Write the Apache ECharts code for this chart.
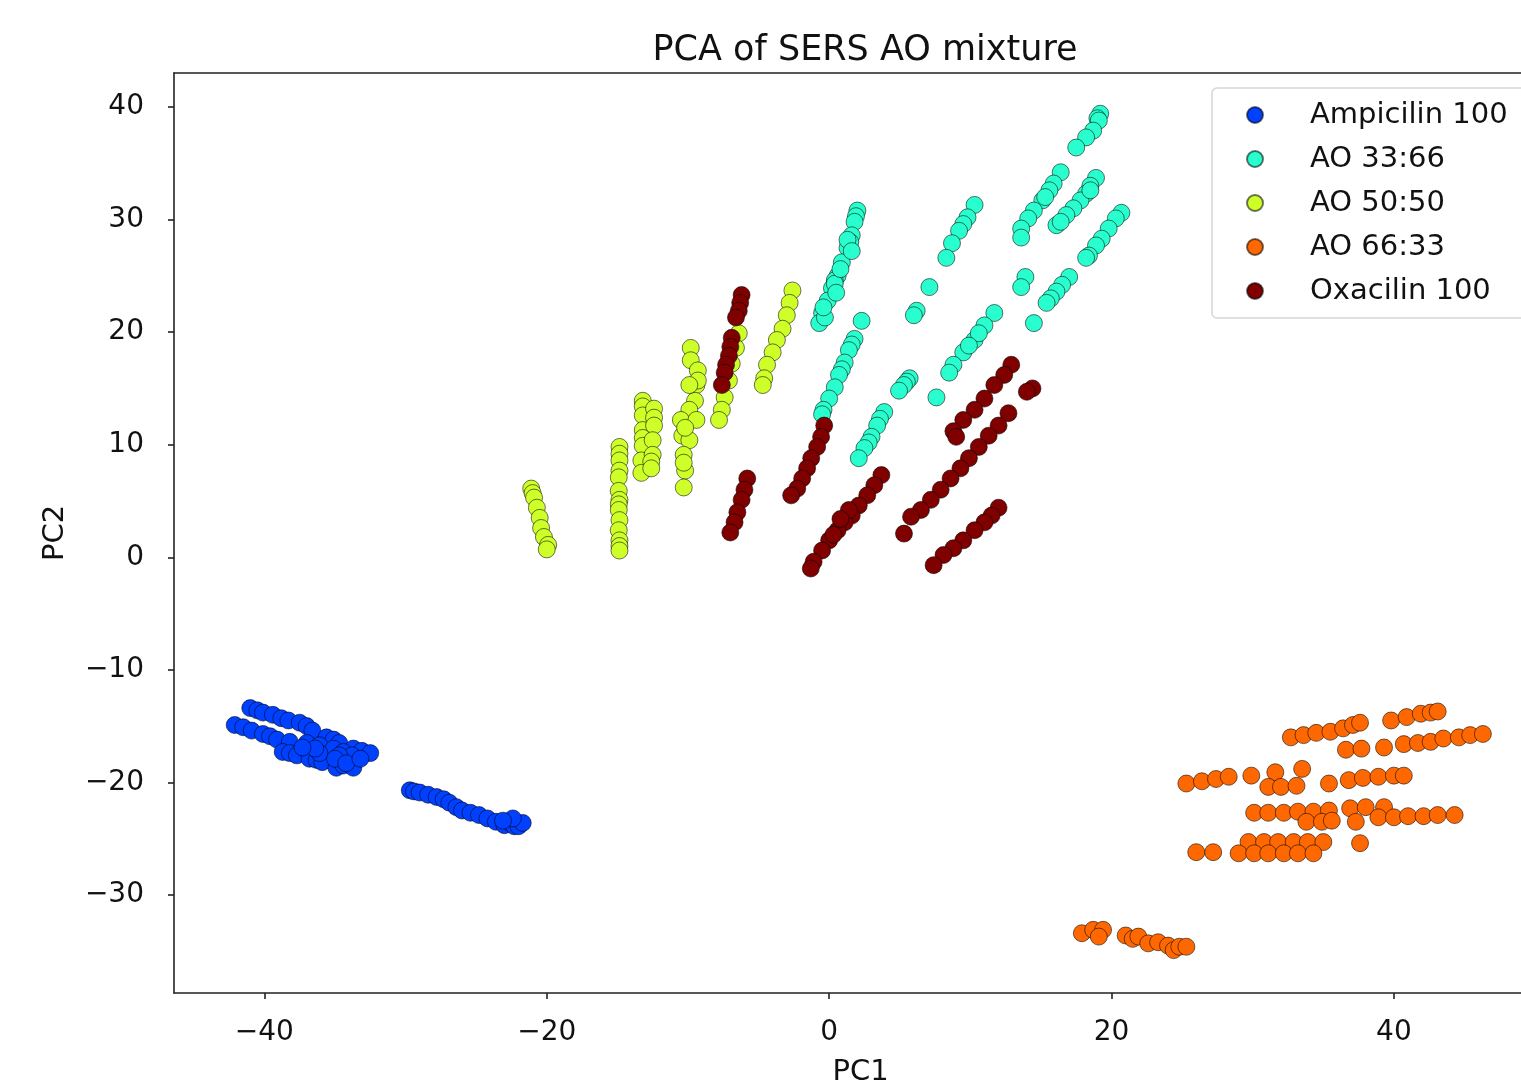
<!DOCTYPE html>
<html>
<head>
<meta charset="utf-8">
<script src="https://cdn.jsdelivr.net/npm/echarts@6/dist/echarts.min.js"></script>
<style>html,body{margin:0;padding:0;background:#fff}#c{width:1521px;height:1092px}</style>
</head>
<body>
<div id="c"></div>
<script>
const seriesNames = ['Ampicilin 100', 'AO 33:66', 'AO 50:50', 'AO 66:33', 'Oxacilin 100'];
const xTicks = [-40, -20, 0, 20, 40];
const yTicks = [-30, -20, -10, 0, 10, 20, 30, 40];

const ampicilin = [
  [-41.0,-13.4],[-40.5,-13.6],[-40.1,-13.8],[-39.4,-14.0],[-38.8,-14.3],[-38.3,-14.5],[-37.5,-14.7],[-37.0,-15.0],[-36.6,-15.4],[-35.6,-16.0],[-35.1,-16.2],[-34.7,-16.5],[-33.7,-17.0],[-33.1,-17.2],[-32.5,-17.4],
  [-42.1,-14.9],[-41.5,-15.1],[-40.9,-15.4],[-40.1,-15.7],[-39.6,-15.9],[-39.1,-16.2],[-38.2,-16.4],[-37.0,-16.5],[-36.1,-16.7],[-35.1,-17.0],[-34.4,-17.3],[-33.8,-17.6],
  [-38.7,-17.3],[-38.2,-17.4],[-37.7,-17.6],[-36.8,-17.9],[-36.3,-18.0],[-35.9,-18.2],[-34.9,-18.7],[-34.4,-18.5],[-33.7,-18.7],[-36.1,-17.4],[-34.7,-17.6],
  [-35.0,-17.9],[-34.2,-18.3],[-33.2,-17.9],[-36.4,-17.0],[-37.3,-16.9],
  [-29.7,-20.7],[-29.4,-20.8],[-29.0,-20.9],[-28.4,-21.1],[-27.8,-21.3],[-27.3,-21.5],[-26.9,-21.8],[-26.4,-22.2],[-26.0,-22.5],[-25.4,-22.7],[-24.8,-22.9],[-24.2,-23.2],
  [-23.6,-23.5],[-23.0,-23.8],[-22.6,-23.6],[-22.3,-23.9],[-22.0,-23.9],[-21.7,-23.6],[-22.4,-23.2],[-23.1,-23.4]
];

const ao3366 = [
  [2.0,30.8],[1.9,30.3],[1.8,29.8],[1.6,28.6],[1.5,28.0],[1.3,27.5],[0.9,26.2],[0.6,25.0],[0.4,24.6],[0.2,23.9],[-0.1,22.8],[-0.5,21.7],[-0.7,20.8],[1.3,28.2],[0.4,24.3],[0.8,25.6],[-0.3,21.3],[1.6,27.2],[0.5,23.5],[-0.4,22.2],
  [2.3,21.0],[1.8,19.4],[1.6,18.9],[1.4,18.4],[1.1,17.3],[0.9,16.7],[0.7,16.2],[0.4,15.1],[0.0,14.1],[-0.4,13.1],[-0.5,12.7],
  [3.9,12.9],[3.6,12.3],[3.4,11.7],[3.0,10.7],[2.8,10.2],[2.5,9.7],[2.1,8.8],
  [11.7,21.7],[11.0,20.6],[10.3,19.3],[9.5,18.2],[8.8,17.1],[8.5,16.4],[10.6,19.9],[9.9,18.8],
  [10.3,31.3],[9.8,30.2],[9.5,29.6],[9.2,29.0],[8.7,27.9],[8.3,26.6],
  [7.1,24.0],[6.2,21.9],[6.0,21.5],
  [5.7,15.9],[5.5,15.6],[5.3,15.3],[4.95,14.8],[7.6,14.2],
  [19.2,39.4],[19.0,39.0],[19.1,38.8],[18.7,37.9],[18.2,37.3],[17.5,36.4],
  [16.4,34.2],[15.9,33.2],[15.6,32.6],[15.1,31.7],[14.5,30.8],[14.1,30.1],[13.6,29.2],[13.6,28.4],[15.3,32.0],
  [18.9,33.7],[18.5,33.0],[18.2,32.3],[17.8,31.7],[17.3,31.0],[16.8,30.4],[16.1,29.5],[18.5,32.6],[16.4,29.8],
  [20.7,30.6],[20.3,30.1],[19.8,29.2],[19.3,28.3],[18.9,27.7],[18.4,26.8],[18.2,26.6],
  [17.0,24.9],[16.5,24.2],[16.1,23.6],[15.7,23.0],[15.4,22.6],
  [13.9,24.9],[13.6,24.0],[14.5,20.8]
];

const ao5050 = [
  [-21.1,6.1],[-21.0,5.7],[-20.9,5.3],[-20.7,4.4],[-20.5,3.5],[-20.4,2.6],[-20.2,1.8],[-19.9,1.1],[-20.0,0.7],
  [-14.85,9.8],[-14.85,9.2],[-14.85,8.6],[-14.85,7.7],[-14.9,7.1],[-14.9,5.9],[-14.85,5.1],[-14.9,4.7],[-14.9,4.2],[-14.85,3.3],[-14.9,2.4],[-14.85,1.5],[-14.85,1.0],[-14.85,0.6],
  [-13.2,13.9],[-13.2,13.4],[-13.2,12.6],[-13.2,11.3],[-13.2,10.6],[-13.2,9.9],[-13.3,8.6],[-13.3,7.5],
  [-12.4,13.2],[-12.4,12.4],[-12.4,11.7],[-12.5,10.4],[-12.5,9.1],[-12.6,8.5],[-12.6,7.9],
  [-9.8,18.6],[-9.8,17.5],[-9.3,16.6],[-9.4,15.3],[-9.5,13.9],[-9.9,13.1],[-10.5,12.2],[-10.4,10.8],[-9.9,10.4],[-10.3,9.1],[-10.2,7.7],[-10.3,6.2],[-9.3,15.7],[-9.4,12.2],[-9.9,15.3],[-10.2,11.5],[-10.3,8.4],
  [-6.4,19.9],[-6.6,18.6],[-6.9,17.2],[-7.1,15.7],[-7.4,14.2],[-7.6,13.1],[-7.8,12.2],
  [-2.6,23.7],[-2.8,22.6],[-3.0,21.5],[-3.3,20.3],[-3.7,19.3],[-4.0,18.2],[-4.4,17.1],[-4.6,15.9],[-4.7,15.3]
];

const ao6633 = [
  [32.7,-16.0],[33.6,-15.8],[34.5,-15.6],[35.5,-15.5],[36.4,-15.2],[37.1,-14.9],[37.6,-14.7],
  [39.8,-14.5],[40.9,-14.2],[41.9,-13.9],[42.6,-13.8],[43.1,-13.7],
  [36.6,-17.1],[37.7,-17.0],[39.3,-16.9],[40.7,-16.6],[41.7,-16.5],[42.6,-16.4],[43.5,-16.1],[44.6,-16.0],[45.4,-15.8],[46.3,-15.7],
  [25.3,-20.1],[26.4,-19.9],[27.4,-19.7],[28.3,-19.5],
  [29.9,-19.4],[31.6,-19.1],[33.5,-18.8],[31.1,-20.4],[32.0,-20.4],[33.1,-20.3],
  [35.4,-20.1],[36.8,-19.8],[37.8,-19.6],[38.9,-19.5],[40.0,-19.4],[40.7,-19.4],
  [30.1,-22.7],[31.1,-22.7],[32.2,-22.7],[33.2,-22.6],[34.3,-22.6],[35.4,-22.5],
  [33.8,-23.5],[34.9,-23.5],[35.6,-23.4],[36.9,-22.3],[38.0,-22.2],[39.3,-22.2],[37.3,-23.5],
  [38.9,-23.1],[40.0,-23.1],[41.0,-23.0],[42.1,-23.0],[43.1,-22.9],[44.3,-22.9],
  [29.7,-25.3],[30.8,-25.3],[31.8,-25.3],[32.9,-25.3],[33.9,-25.3],[35.0,-25.3],
  [26.0,-26.2],[27.2,-26.2],[29.0,-26.3],[30.1,-26.3],[31.1,-26.3],[32.2,-26.3],[33.2,-26.3],[34.3,-26.3],
  [37.6,-25.4],
  [17.9,-33.4],[18.7,-33.1],[19.4,-33.1],[19.1,-33.7],[21.0,-33.6],[21.5,-33.9],[21.9,-33.7],[22.6,-34.3],[23.3,-34.2],[24.0,-34.5],[24.4,-34.9],[24.8,-34.6],[25.3,-34.6]
];

const oxacilin = [
  [-6.2,23.3],[-6.3,22.6],[-6.4,21.9],[-6.6,21.3],
  [-6.9,19.5],[-7.0,18.7],[-7.1,17.9],[-7.3,17.1],[-7.4,16.4],[-7.6,15.3],
  [-5.8,7.0],[-6.0,6.0],[-6.2,5.1],[-6.5,4.0],[-6.7,3.1],[-7.0,2.2],
  [-0.35,11.7],[-0.57,10.7],[-0.85,9.8],[-1.27,8.8],[-1.56,7.9],[-1.91,7.0],[-2.26,6.1],[-2.69,5.5],
  [3.7,7.3],[3.2,6.4],[2.7,5.5],[2.1,4.6],[1.6,3.7],[1.1,3.1],[0.6,2.4],[0.0,1.5],[-0.5,0.6],[-1.1,-0.4],[-1.3,-1.0],[1.4,4.2],[0.8,3.4],[0.3,2.0],
  [12.9,17.1],[12.4,16.2],[11.7,15.3],[11.0,14.1],[10.3,13.1],[9.5,12.2],[8.8,11.2],[9.0,10.7],
  [14.4,15.0],[14.0,14.7],
  [12.7,12.8],[12.0,11.7],[11.3,10.8],[10.6,9.8],[9.9,8.8],[9.3,7.9],[8.6,7.0],[7.9,6.0],[7.2,5.1],[6.5,4.2],[5.8,3.6],[5.3,2.1],
  [12.0,4.4],[11.5,3.7],[11.0,3.1],[10.3,2.4],[9.5,1.5],[8.8,0.8],[8.1,0.2],[7.4,-0.7]
];

const seriesData = [ampicilin, ao3366, ao5050, ao6633, oxacilin];
const colors = ['#0040ff', '#29ffce', '#ceff29', '#ff6800', '#800000'];

const fmt = v => String(v).replace('-', '\u2212');
const font = 'DejaVu Sans';

const chart = echarts.init(document.getElementById('c'), null, {renderer: 'canvas'});
chart.setOption({
  animation: false,
  backgroundColor: '#fff',
  title: {
    text: 'PCA of SERS AO mixture',
    left: 860, top: 28, textAlign: 'center',
    textStyle: {fontFamily: font, fontSize: 35, fontWeight: 'normal', color: '#111'}
  },
  grid: {left: 174, top: 73, right: 0, bottom: 99, containLabel: false},
  legend: {
    orient: 'vertical', left: 1212, top: 88,
    data: seriesNames.map(n => ({name: n, icon: 'circle'})),
    itemWidth: 16, itemHeight: 16, itemGap: 14,
    padding: [12, 40, 12, 34],
    backgroundColor: 'rgba(255,255,255,0.8)', borderColor: '#d6d6d6', borderWidth: 1.5, borderRadius: 5,
    textStyle: {fontFamily: font, fontSize: 29, color: '#111', lineHeight: 30, padding: [0, 0, 0, 42]}
  },
  xAxis: [{
    type: 'value', min: -46.4, max: 49.0,
    name: 'PC1', nameLocation: 'middle', nameGap: 65,
    nameTextStyle: {fontFamily: font, fontSize: 29, color: '#111', verticalAlign: 'top', padding: [0, 0, 0, 26]},
    splitLine: {show: false},
    axisLine: {show: true, onZero: false, lineStyle: {color: '#222', width: 1.6}},
    axisTick: {show: true, length: 6, customValues: xTicks, lineStyle: {color: '#222', width: 1.6}},
    axisLabel: {customValues: xTicks, formatter: fmt, margin: 26, fontFamily: font, fontSize: 28, color: '#111'}
  }, {
    type: 'value', position: 'top', min: -46.4, max: 49.0,
    splitLine: {show: false},
    axisLine: {show: true, onZero: false, lineStyle: {color: '#222', width: 1.6}},
    axisTick: {show: false}, axisLabel: {show: false}
  }],
  yAxis: {
    type: 'value', min: -38.71, max: 43.02,
    name: 'PC2', nameLocation: 'middle', nameGap: 104, nameRotate: 90,
    nameTextStyle: {fontFamily: font, fontSize: 29, color: '#111'},
    splitLine: {show: false},
    axisLine: {show: true, onZero: false, lineStyle: {color: '#222', width: 1.6}},
    axisTick: {show: true, length: 6, customValues: yTicks, lineStyle: {color: '#222', width: 1.6}},
    axisLabel: {customValues: yTicks, formatter: fmt, margin: 30, fontFamily: font, fontSize: 28, color: '#111'}
  },
  series: seriesNames.map((n, i) => ({
    name: n, type: 'scatter', data: seriesData[i], xAxisIndex: 0,
    symbol: 'circle', symbolSize: 17,
    itemStyle: {color: colors[i], opacity: 1, borderColor: 'rgba(0,0,0,0.55)', borderWidth: 1},
    emphasis: {disabled: true}
  }))
});
</script>
</body>
</html>
